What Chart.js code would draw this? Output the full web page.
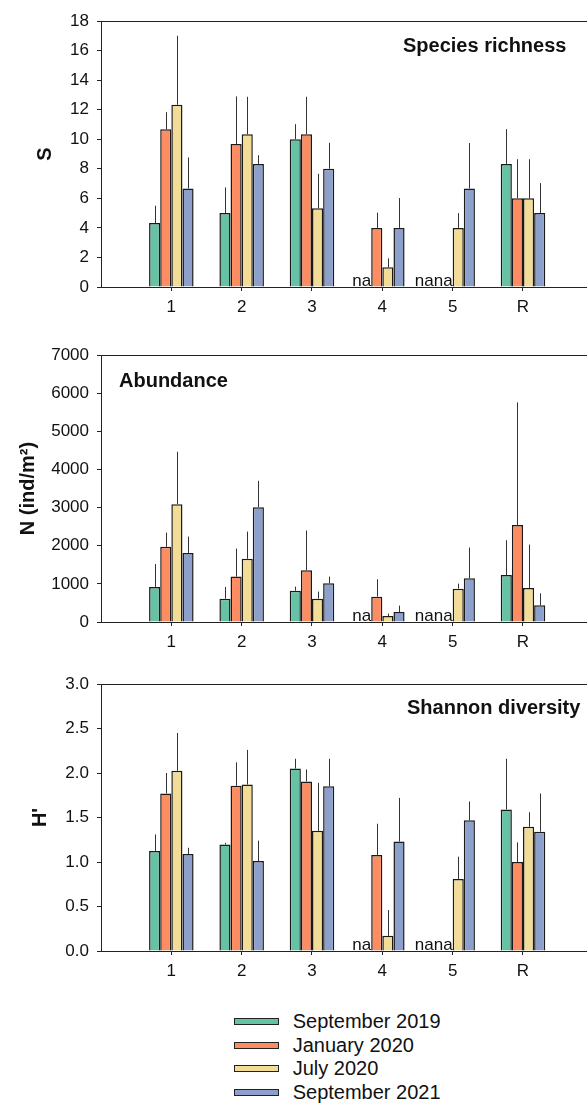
<!DOCTYPE html>
<html>
<head>
<meta charset="utf-8">
<script src="https://cdn.jsdelivr.net/npm/chart.js@4/dist/chart.umd.min.js"></script>
<style>
  html, body { margin: 0; padding: 0; background: #fff; }
  body { width: 587px; height: 1104px; position: relative; overflow: hidden; font-family: "Liberation Sans", Arial, sans-serif; }
  canvas { position: absolute; left: 0; }
  #legend { position: absolute; left: 234px; top: 1010px; }
  .row { position: relative; height: 23.6px; display: flex; align-items: center; }
  .box { width: 43px; height: 5px; border: 1.5px solid #222; box-sizing: content-box; }
  .lbl { position: absolute; left: 58.7px; font-size: 20px; color: #111; white-space: nowrap; line-height: 23.6px; }
</style>
</head>
<body>
<canvas id="c1" width="587" height="322" style="top:0px"></canvas>
<canvas id="c2" width="587" height="327" style="top:330px"></canvas>
<canvas id="c3" width="587" height="326" style="top:660px"></canvas>
<div id="legend"></div>
<script>
// ---------- data ----------
const cats = ['1', '2', '3', '4', '5', 'R'];
const seriesNames = ['September 2019', 'January 2020', 'July 2020', 'September 2021'];

// Species richness (S): means and upper error limits
const sSep19 = [4.33, 5, 10, null, null, 8.33];
const sJan20 = [10.67, 9.67, 10.33, 4, null, 6];
const sJul20 = [12.33, 10.33, 5.33, 1.33, 4, 6];
const sSep21 = [6.67, 8.33, 8, 4, 6.67, 5];
const sSep19Up = [5.5, 6.74, 11.02, null, null, 10.68];
const sJan20Up = [11.83, 12.9, 12.87, 5.03, null, 8.65];
const sJul20Up = [17.0, 12.87, 7.66, 1.94, 5.0, 8.65];
const sSep21Up = [8.77, 8.92, 9.76, 6.02, 9.74, 7.03];

// Abundance N (ind/m2)
const nSep19 = [920, 610, 820, null, null, 1230];
const nJan20 = [1970, 1190, 1355, 665, null, 2545];
const nJul20 = [3090, 1660, 612, 157, 875, 890];
const nSep21 = [1810, 3010, 1015, 262, 1145, 437];
const nSep19Up = [1522, 919, 927, null, null, 2144];
const nJan20Up = [2345, 1925, 2397, 1120, null, 5757];
const nJul20Up = [4463, 2371, 796, 219, 1006, 2030];
const nSep21Up = [2240, 3701, 1190, 429, 1951, 752];

// Shannon diversity H'
const hSep19 = [1.125, 1.196, 2.05, null, null, 1.59];
const hJan20 = [1.77, 1.856, 1.905, 1.08, null, 1.0];
const hJul20 = [2.025, 1.87, 1.35, 0.17, 0.81, 1.395];
const hSep21 = [1.09, 1.01, 1.85, 1.23, 1.47, 1.34];
const hSep19Up = [1.31, 1.215, 2.16, null, null, 2.16];
const hJan20Up = [2.0, 2.12, 2.04, 1.43, null, 1.22];
const hJul20Up = [2.45, 2.26, 1.89, 0.46, 1.06, 1.56];
const hSep21Up = [1.16, 1.24, 2.16, 1.72, 1.68, 1.77];

// ---------- styles ----------
const colors = ['#66c2a5', '#fc8d62', '#f2dc96', '#8da0cb'];
const FONT = '"Liberation Sans", Arial, sans-serif';
const AXIS = '#222';

// ---------- plugins ----------
const errorBars = {
  id: 'errorBars',
  afterDatasetsDraw(chart) {
    const ctx = chart.ctx, ys = chart.scales.y;
    ctx.save();
    ctx.strokeStyle = '#333';
    ctx.lineWidth = 1;
    chart.data.datasets.forEach((ds, i) => {
      const meta = chart.getDatasetMeta(i);
      meta.data.forEach((el, j) => {
        const up = ds.errUp[j];
        if (up == null || ds.data[j].y == null) return;
        const x = Math.round(el.x) + 0.5;
        ctx.beginPath();
        ctx.moveTo(x, el.y);
        ctx.lineTo(x, ys.getPixelForValue(up));
        ctx.stroke();
      });
    });
    ctx.restore();
  }
};

const naLabels = {
  id: 'naLabels',
  afterDatasetsDraw(chart) {
    const ctx = chart.ctx, ys = chart.scales.y;
    const dsets = chart.data.datasets;
    ctx.save();
    ctx.font = '17px ' + FONT;
    ctx.fillStyle = '#111';
    ctx.textAlign = 'right';
    ctx.textBaseline = 'alphabetic';
    cats.forEach((c, j) => {
      let refK = dsets.findIndex(d => d.data[j].y != null);
      if (refK < 0) return;
      const refEl = chart.getDatasetMeta(refK).data[j];
      const w = refEl.width;
      let k = 0;
      while (k < dsets.length) {
        if (dsets[k].data[j].y == null) {
          let e = k;
          while (e + 1 < dsets.length && dsets[e + 1].data[j].y == null) e++;
          const right = refEl.x + (e - refK) * w + w / 2;
          ctx.fillText('na'.repeat(e - k + 1), right, ys.getPixelForValue(0) - 1);
          k = e + 1;
        } else k++;
      }
    });
    ctx.restore();
  }
};

const frame = {
  id: 'frame',
  afterDraw(chart, args, opts) {
    const ctx = chart.ctx, a = chart.chartArea;
    ctx.save();
    ctx.strokeStyle = AXIS;
    ctx.lineWidth = 1;
    ctx.beginPath();
    ctx.moveTo(a.left, Math.round(a.top) + 0.5);
    ctx.lineTo(a.right, Math.round(a.top) + 0.5);
    ctx.stroke();
    ctx.font = 'bold 20px ' + FONT;
    ctx.fillStyle = '#111';
    ctx.textAlign = 'left';
    ctx.textBaseline = 'alphabetic';
    ctx.fillText(opts.text, opts.x, opts.y);
    ctx.restore();
  }
};

function makeChart(id, series, ups, yOpts, yTitle, titlePad, panel, padTop) {
  const datasets = series.map((arr, i) => ({
    label: seriesNames[i],
    data: cats.map((c, j) => ({ x: j + 1, y: arr[j] })),
    errUp: ups[i],
    backgroundColor: colors[i],
    borderColor: '#1a1a1a',
    borderWidth: 1.5,
    barPercentage: 1.0,
    categoryPercentage: 0.633
  }));
  return new Chart(document.getElementById(id), {
    type: 'bar',
    data: { datasets },
    plugins: [errorBars, naLabels, frame],
    options: {
      responsive: false,
      animation: false,
      devicePixelRatio: 1,
      layout: { padding: { top: padTop, left: 0, right: 0, bottom: 0 } },
      plugins: {
        legend: { display: false },
        tooltip: { enabled: false },
        frame: panel
      },
      scales: {
        x: {
          type: 'linear',
          offset: false,
          min: 0,
          max: 6.91,
          afterBuildTicks: s => { s.ticks = cats.map((c, i) => ({ value: i + 1 })); },
          afterFit: s => { s.height = 35; },
          ticks: {
            autoSkip: false,
            maxRotation: 0,
            padding: 6,
            color: '#111',
            font: { family: FONT, size: 17 },
            callback: (v, i) => cats[i]
          },
          grid: { display: true, offset: false, drawOnChartArea: false, drawTicks: true, tickLength: 4, tickColor: AXIS },
          border: { display: true, color: AXIS, width: 1 }
        },
        y: {
          min: yOpts.min,
          max: yOpts.max,
          afterFit: s => { s.width = 101; },
          ticks: {
            stepSize: yOpts.step,
            padding: 8,
            color: '#111',
            font: { family: FONT, size: 17 },
            callback: yOpts.fmt
          },
          grid: { display: true, drawOnChartArea: false, drawTicks: true, tickLength: 4, tickColor: AXIS },
          border: { display: true, color: AXIS, width: 1 },
          title: {
            display: true,
            text: yTitle,
            color: '#111',
            font: { family: FONT, size: 20, weight: 'bold', lineHeight: 1.2 },
            padding: { top: titlePad, bottom: 0 }
          }
        }
      }
    }
  });
}

makeChart('c1', [sSep19, sJan20, sJul20, sSep21], [sSep19Up, sJan20Up, sJul20Up, sSep21Up],
  { min: 0, max: 18, step: 2, fmt: v => String(v) }, 'S', 33,
  { text: 'Species richness', x: 403, y: 52 }, 21);
makeChart('c2', [nSep19, nJan20, nJul20, nSep21], [nSep19Up, nJan20Up, nJul20Up, nSep21Up],
  { min: 0, max: 7000, step: 1000, fmt: v => String(v) }, 'N (ind/m\u00B2)', 16,
  { text: 'Abundance', x: 119, y: 57 }, 25);
makeChart('c3', [hSep19, hJan20, hJul20, hSep21], [hSep19Up, hJan20Up, hJul20Up, hSep21Up],
  { min: 0, max: 3, step: 0.5, fmt: v => v.toFixed(1) }, "H'", 28,
  { text: 'Shannon diversity', x: 407, y: 54 }, 24);

// legend (HTML, real text)
const lg = document.getElementById('legend');
seriesNames.forEach((name, i) => {
  const row = document.createElement('div');
  row.className = 'row';
  const box = document.createElement('div');
  box.className = 'box';
  box.style.background = colors[i];
  const t = document.createElement('div');
  t.className = 'lbl';
  t.textContent = name;
  row.appendChild(box);
  row.appendChild(t);
  lg.appendChild(row);
});
</script>
</body>
</html>
